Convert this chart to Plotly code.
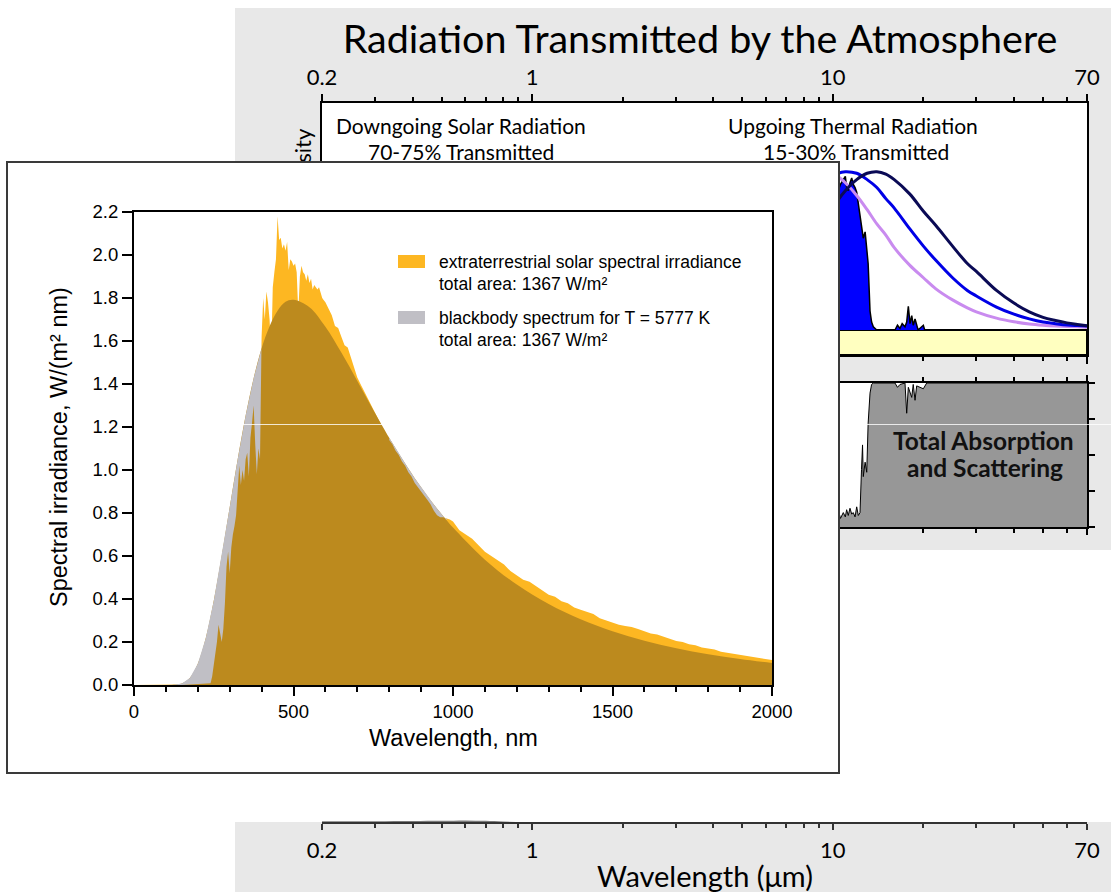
import math
import plotly.graph_objects as go

W, H = 1111, 892


def px(x):
    return x / W


def py(y):
    return 1 - y / H


# ---------------- Inset: solar spectrum vs. blackbody ----------------
bb_wavelength_nm = [0, 100, 125, 150, 175, 200, 225, 250, 275, 300, 325, 350, 375, 400, 425, 450,
                    475, 500, 550, 600, 650, 700, 750, 800, 820, 840, 860, 880, 900, 920, 940, 960,
                    980, 1000, 1100, 1200, 1300, 1400, 1500, 1600, 1700, 1800, 1900, 2000]
bb_irradiance = [0.0, 0.0, 0.001, 0.007, 0.033, 0.099, 0.219, 0.392, 0.601, 0.827, 1.050, 1.253,
                 1.427, 1.566, 1.669, 1.741, 1.783, 1.792, 1.757, 1.666, 1.546, 1.414, 1.279, 1.150,
                 1.101, 1.053, 1.007, 0.962, 0.920, 0.878, 0.839, 0.802, 0.766, 0.732, 0.583, 0.467,
                 0.377, 0.306, 0.250, 0.206, 0.171, 0.143, 0.121, 0.102]

solar_wavelength_nm = [
    0, 100, 150, 200, 240, 245, 250, 255, 260, 265, 270, 275, 280, 285, 290, 295, 300, 305, 310,
    315, 320, 325, 330, 335, 340, 345, 350, 355, 360, 365, 370, 375, 380, 385, 390, 395, 400, 405,
    410, 415, 420, 425, 430, 435, 440, 445, 450, 455, 460, 465, 470, 475, 480, 485, 490, 495, 500,
    505, 510, 515, 520, 525, 530, 535, 540, 545, 550, 555, 560, 565, 570, 575, 580, 585, 590, 595,
    600, 610, 620, 630, 640, 650, 660, 670, 680, 690, 700, 710, 720, 730, 740, 750, 760, 770, 780,
    790, 800, 810, 820, 830, 840, 850, 860, 870, 880, 890, 900, 910, 920, 930, 940, 950, 960, 970,
    980, 990, 1000, 1020, 1040, 1060, 1080, 1100, 1120, 1140, 1160, 1180, 1200, 1220, 1240, 1260,
    1280, 1300, 1320, 1340, 1360, 1380, 1400, 1420, 1440, 1460, 1480, 1500, 1520, 1540, 1560, 1580,
    1600, 1620, 1640, 1660, 1680, 1700, 1720, 1740, 1760, 1780, 1800, 1820, 1840, 1860, 1880, 1900,
    1920, 1940, 1960, 1980, 2000]
solar_irradiance = [
    0.0, 0.0, 0.0, 0.003, 0.008, 0.04, 0.08, 0.15, 0.20, 0.28, 0.24, 0.20, 0.26, 0.38, 0.55, 0.62,
    0.52, 0.64, 0.70, 0.74, 0.79, 0.90, 1.02, 0.93, 1.00, 0.95, 1.05, 1.08, 0.97, 1.15, 1.22, 1.30,
    1.12, 0.98, 1.10, 1.05, 1.62, 1.80, 1.70, 1.83, 1.78, 1.70, 1.53, 1.85, 1.92, 1.98, 2.18, 2.07,
    2.08, 2.03, 2.05, 2.02, 2.06, 1.93, 1.98, 1.97, 1.95, 1.96, 1.92, 1.73, 1.90, 1.95, 1.92, 1.91,
    1.88, 1.91, 1.87, 1.89, 1.84, 1.86, 1.85, 1.84, 1.85, 1.82, 1.80, 1.79, 1.78, 1.75, 1.72, 1.67,
    1.66, 1.62, 1.58, 1.57, 1.52, 1.48, 1.43, 1.40, 1.37, 1.34, 1.31, 1.285, 1.25, 1.22, 1.19,
    1.165, 1.14, 1.12, 1.09, 1.07, 1.04, 1.02, 0.99, 0.97, 0.94, 0.92, 0.90, 0.88, 0.86, 0.84, 0.81,
    0.79, 0.78, 0.78, 0.775, 0.77, 0.76, 0.72, 0.70, 0.68, 0.65, 0.62, 0.60, 0.58, 0.56, 0.53, 0.51,
    0.49, 0.48, 0.46, 0.44, 0.42, 0.41, 0.39, 0.38, 0.36, 0.35, 0.34, 0.33, 0.31, 0.30, 0.29, 0.28,
    0.275, 0.27, 0.26, 0.25, 0.24, 0.235, 0.225, 0.215, 0.205, 0.20, 0.19, 0.185, 0.175, 0.17, 0.165,
    0.155, 0.15, 0.145, 0.14, 0.135, 0.13, 0.125, 0.12, 0.116]

# wavelength windows (nm) where the blackbody lies above the measured spectrum
bb_above_windows_nm = [(100, 400), (800, 980)]

# ---------------- Background figure: radiation transmitted by the atmosphere ----------------
wl_range_um = [0.2, 70]
major_ticks_um = [0.2, 1, 10, 70]
major_tick_text = ["0.2", "1", "10", "70"]
minor_ticks_um = [0.3, 0.4, 0.5, 0.6, 0.7, 0.8, 0.9, 2, 3, 4, 5, 6, 7, 8, 9, 20, 30, 40, 50, 60]

thermal_wl_um = [5, 6, 7, 8, 9, 10, 10.4, 11, 12, 13, 14, 15, 16, 18, 20, 22, 25, 28, 30, 35, 40,
                 45, 50, 55, 60, 65, 70]
thermal_310K = [0.30, 0.57, 0.80, 0.94, 1.00, 0.99, 0.97, 0.93, 0.85, 0.76, 0.67, 0.60, 0.52, 0.41,
                0.33, 0.26, 0.19, 0.14, 0.115, 0.075, 0.052, 0.038, 0.030, 0.025, 0.022, 0.020, 0.018]
thermal_260K = [0.12, 0.31, 0.54, 0.74, 0.89, 0.97, 0.99, 1.00, 0.99, 0.95, 0.90, 0.83, 0.77, 0.64,
                0.53, 0.44, 0.33, 0.25, 0.215, 0.145, 0.10, 0.07, 0.05, 0.04, 0.032, 0.028, 0.025]
thermal_210K = [0.03, 0.10, 0.24, 0.42, 0.60, 0.76, 0.82, 0.88, 0.95, 0.99, 1.00, 0.985, 0.95,
                0.86, 0.75, 0.66, 0.53, 0.42, 0.37, 0.25, 0.17, 0.115, 0.08, 0.06, 0.045, 0.035, 0.027]

transmitted_wl_um = [7.5, 8.0, 8.5, 9.0, 9.5, 10.0, 10.42, 10.6, 10.83, 11.0, 11.11, 11.25, 11.4,
                     11.55, 11.69, 11.85, 12.0, 12.15, 12.31, 12.45, 12.62, 12.8, 12.96, 13.1, 13.29,
                     13.45, 13.63, 13.99, 15.0, 16.09, 16.4, 16.72, 17.0, 17.37, 17.6, 17.82, 18.05,
                     18.29, 18.5, 18.76, 19.2, 19.99, 20.2, 20.51, 25.0, 70.0]
transmitted_thermal = [0.0, 0.45, 0.62, 0.70, 0.55, 0.80, 0.88, 0.92, 0.95, 0.97, 0.90, 0.88, 0.93,
                       0.96, 0.92, 0.90, 0.87, 0.80, 0.72, 0.66, 0.58, 0.62, 0.53, 0.42, 0.12, 0.05,
                       0.02, 0.0, 0.0, 0.0, 0.03, 0.01, 0.04, 0.02, 0.05, 0.15, 0.04, 0.09, 0.03,
                       0.07, 0.0, 0.03, 0.0, 0.0, 0.0, 0.0]

absorption_wl_um = [0.2, 0.3, 0.5, 0.7, 0.9, 1.0, 1.4, 1.6, 1.9, 2.2, 2.7, 3.5, 4.3, 5.5, 6.5, 7.5,
                    8.5, 9.6, 10.0, 10.42, 10.6, 10.83, 11.0, 11.11, 11.25, 11.4, 11.55, 11.69, 11.85,
                    12.0, 12.15, 12.31, 12.45, 12.55, 12.62, 12.8, 12.96, 13.1, 13.29, 13.45, 13.63,
                    16.09, 16.4, 16.72, 17.37, 17.6, 17.82, 18.05, 18.29, 18.5, 18.76, 19.0, 19.99,
                    20.51, 70.0]
total_absorption = [1.0, 0.35, 0.25, 0.2, 0.45, 0.2, 0.9, 0.2, 0.95, 0.2, 1.0, 0.3, 1.0, 0.8, 1.0,
                    0.9, 0.3, 0.6, 0.15, 0.12, 0.06, 0.10, 0.07, 0.12, 0.08, 0.13, 0.09, 0.10, 0.07,
                    0.14, 0.08, 0.10, 0.40, 0.57, 0.35, 0.45, 0.38, 0.72, 0.93, 0.99, 1.0, 1.0, 0.97,
                    0.99, 1.0, 0.79, 0.97, 0.93, 0.90, 0.99, 0.88, 0.98, 0.96, 1.0, 1.0]
absorption_ticks = [0, 0.25, 0.5, 0.75, 1.0]

rayleigh_wl_um = [0.2, 0.3, 0.4, 0.5, 0.6, 0.7, 0.8, 0.95]
rayleigh_tail = [0.08, 0.08, 0.1, 0.12, 0.16, 0.12, 0.05, 0.0]

# ---------------- styles ----------------
ORANGE = "#FDB722"
GOLD = "#BC8A1E"
GRAY = "#C0BFC5"
PANEL_GRAY = "#E8E8E8"
MYRIAD = "Lato, 'Open Sans', sans-serif"
ARIAL = "'Liberation Sans', Arial, sans-serif"
LOGR = [math.log10(wl_range_um[0]), math.log10(wl_range_um[1])]
UPPER_Y = [-0.158, 1.434]


def window(xs, ys, lo, hi):
    pts = [(a, b) for a, b in zip(xs, ys) if lo <= a <= hi]
    return [p[0] for p in pts], [p[1] for p in pts]


fig = go.Figure()

# --- subplot 1: spectral intensity (upper panel)
fig.add_trace(go.Scatter(x=transmitted_wl_um, y=transmitted_thermal, xaxis="x", yaxis="y",
                         mode="lines", fill="tozeroy", fillcolor="#0000FF",
                         line=dict(color="black", width=1.5), hoverinfo="skip", showlegend=False))
for vals, col in [(thermal_310K, "#C98BEF"), (thermal_260K, "#0000E6"), (thermal_210K, "#0A0A55")]:
    fig.add_trace(go.Scatter(x=thermal_wl_um, y=vals, xaxis="x", yaxis="y", mode="lines",
                             line=dict(color=col, width=3, shape="spline", smoothing=1.0),
                             hoverinfo="skip", showlegend=False))

# --- subplot 2: total absorption
fig.add_trace(go.Scatter(x=absorption_wl_um, y=total_absorption, xaxis="x2", yaxis="y2",
                         mode="lines", fill="tozeroy", fillcolor="#979797",
                         line=dict(color="black", width=1), hoverinfo="skip", showlegend=False))

# --- subplot 3: inset box (background only)
fig.add_trace(go.Scatter(x=[None], y=[None], xaxis="x3", yaxis="y3", mode="lines",
                         hoverinfo="skip", showlegend=False))

# --- subplot 4: inset chart
fig.add_trace(go.Scatter(x=solar_wavelength_nm, y=solar_irradiance, xaxis="x4", yaxis="y4",
                         mode="lines", fill="tozeroy", fillcolor=ORANGE, line=dict(width=0),
                         hoverinfo="skip", showlegend=False))
fig.add_trace(go.Scatter(x=bb_wavelength_nm, y=bb_irradiance, xaxis="x4", yaxis="y4",
                         mode="lines", fill="tozeroy", fillcolor=GOLD,
                         line=dict(width=0, shape="spline"), hoverinfo="skip", showlegend=False))
# blackbody showing above the measured spectrum: region between the two curves
for lo, hi in bb_above_windows_nm:
    bx, by = window(bb_wavelength_nm, bb_irradiance, lo, hi)
    sx, sy = window(solar_wavelength_nm, solar_irradiance, lo, hi)
    fig.add_trace(go.Scatter(x=bx + sx[::-1], y=by + sy[::-1], xaxis="x4", yaxis="y4",
                             mode="lines", fill="toself", fillcolor=GRAY, line=dict(width=0),
                             hoverinfo="skip", showlegend=False))

# --- subplot 5: bottom wavelength axis
fig.add_trace(go.Scatter(x=rayleigh_wl_um, y=rayleigh_tail, xaxis="x5", yaxis="y5", mode="lines",
                         fill="tozeroy", fillcolor="#7a7a7a", line=dict(width=0, shape="spline"),
                         hoverinfo="skip", showlegend=False))

dom_x = [px(322), px(1087)]
noaxis = dict(showgrid=False, zeroline=False, automargin=False)
minor_log = dict(tickmode="array", tickvals=minor_ticks_um, ticks="outside", ticklen=4,
                 tickwidth=1.5, tickcolor="black", showgrid=False)

fig.update_layout(
    template="none",
    width=W, height=H, autosize=False, margin=dict(l=0, r=0, t=0, b=0, pad=0),
    paper_bgcolor=PANEL_GRAY, plot_bgcolor="white", hovermode=False, showlegend=False,
    title=dict(text="Radiation Transmitted by the Atmosphere", x=px(700), y=py(39),
               xanchor="center", yanchor="middle", automargin=False,
               font=dict(family=MYRIAD, size=39.5, color="black")),
    xaxis=dict(domain=dom_x, type="log", range=LOGR, anchor="y", side="top", showline=True,
               linecolor="black", linewidth=2, mirror="ticks", ticks="outside", ticklen=7,
               tickwidth=1.5, tickcolor="black", tickmode="array", tickvals=major_ticks_um,
               ticktext=major_tick_text, tickfont=dict(family=MYRIAD, size=22, color="black"),
               ticklabelstandoff=0, minor=minor_log, **noaxis),
    yaxis=dict(domain=[py(355), py(103)], range=UPPER_Y, anchor="x", showline=True,
               linecolor="black", linewidth=2, mirror=True, ticks="", showticklabels=False, **noaxis),
    xaxis2=dict(domain=dom_x, type="log", range=LOGR, anchor="y2", side="bottom", showline=True,
                linecolor="black", linewidth=1.5, mirror="ticks", ticks="outside", ticklen=6,
                tickwidth=1.5, tickcolor="black", tickmode="array", tickvals=major_ticks_um,
                showticklabels=False, minor=minor_log, **noaxis),
    yaxis2=dict(domain=[py(527), py(383)], range=[0, 1], anchor="x2", side="right",
                showline=True, linecolor="black", linewidth=1.5, mirror=True, ticks="outside",
                ticklen=6, tickwidth=1.5, tickcolor="black", tickmode="array",
                tickvals=absorption_ticks, showticklabels=False, **noaxis),
    xaxis3=dict(domain=[px(8), px(838)], range=[0, 1], anchor="y3", showline=True,
                linecolor="#3a3a3a", linewidth=1.5, mirror=True, ticks="", showticklabels=False,
                fixedrange=True, **noaxis),
    yaxis3=dict(domain=[py(772), py(163)], range=[0, 1], anchor="x3", showline=True,
                linecolor="#3a3a3a", linewidth=1.5, mirror=True, ticks="", showticklabels=False,
                fixedrange=True, **noaxis),
    xaxis4=dict(domain=[px(134), px(772)], range=[0, 2000], anchor="y4", showline=True,
                linecolor="black", linewidth=2, mirror=True, ticks="outside", ticklen=9,
                tickwidth=1.5, tickcolor="black", tickmode="linear", tick0=0, dtick=500,
                minor=dict(tickmode="linear", tick0=0, dtick=100, ticks="outside", ticklen=5,
                           tickwidth=1.5, tickcolor="black", showgrid=False),
                tickfont=dict(family=ARIAL, size=18.5, color="black"), **noaxis),
    yaxis4=dict(domain=[py(685), py(212)], range=[0, 2.2], anchor="x4", showline=True,
                linecolor="black", linewidth=2, mirror=True, ticks="outside", ticklen=10,
                tickwidth=1.5, tickcolor="black", tickmode="linear", tick0=0, dtick=0.2,
                tickformat=".1f", tickfont=dict(family=ARIAL, size=18.5, color="black"), **noaxis),
    xaxis5=dict(domain=dom_x, type="log", range=LOGR, anchor="y5", side="bottom", showline=True,
                linecolor="#333333", linewidth=1.5, ticks="outside", ticklen=6, tickwidth=1.5,
                tickcolor="#333333", tickmode="array", tickvals=major_ticks_um,
                ticktext=major_tick_text, tickfont=dict(family=MYRIAD, size=22, color="black"),
                ticklabelstandoff=2,
                minor=dict(tickmode="array", tickvals=minor_ticks_um, ticks="outside", ticklen=4,
                           tickwidth=1.5, tickcolor="#333333", showgrid=False), **noaxis),
    yaxis5=dict(domain=[py(822), py(812)], range=[0, 1], anchor="x5", visible=False),
)

shapes = [
    # white page areas around the grey panel
    dict(type="rect", xref="paper", yref="paper", x0=0, x1=px(235), y0=0, y1=1,
         fillcolor="white", line=dict(width=0), layer="below"),
    dict(type="rect", xref="paper", yref="paper", x0=0, x1=1, y0=py(8), y1=1,
         fillcolor="white", line=dict(width=0), layer="below"),
    dict(type="rect", xref="paper", yref="paper", x0=px(235), x1=1, y0=py(822), y1=py(550),
         fillcolor="white", line=dict(width=0), layer="below"),
    # yellow band under the intensity panel
    dict(type="rect", xref="x domain", yref="y", x0=0, x1=1, y0=UPPER_Y[0], y1=0,
         fillcolor="#FFFFC0", line=dict(color="black", width=2), layer="below"),
    # y-axis label of the intensity panel (mostly hidden behind the inset)
    dict(type="rect", xref="paper", yref="paper", x0=px(288), x1=px(316), y0=py(300), y1=py(125),
         fillcolor="rgba(0,0,0,0)", line=dict(width=0), layer="below",
         label=dict(text="Spectral Intensity", textangle=-90, textposition="middle center",
                    font=dict(family=MYRIAD, size=22, color="black"))),
    # inset legend swatches
    dict(type="rect", xref="paper", yref="paper", x0=px(398), x1=px(425), y0=py(268), y1=py(255),
         fillcolor=ORANGE, line=dict(width=0), layer="above"),
    dict(type="rect", xref="paper", yref="paper", x0=px(398), x1=px(425), y0=py(324), y1=py(311),
         fillcolor=GRAY, line=dict(width=0), layer="above"),
]
for x0, x1 in [(235, 771), (774, 837), (840, 1111)]:
    shapes.append(dict(type="line", xref="paper", yref="paper", x0=px(x0), x1=px(x1),
                       y0=py(424.5), y1=py(424.5), line=dict(color="rgba(255,255,255,0.8)", width=1),
                       layer="above"))
fig.update_layout(shapes=shapes)


def ann(text, x, y, font, xanchor="center", **kw):
    return dict(text=text, x=px(x), y=py(y), xref="paper", yref="paper", showarrow=False,
                xanchor=xanchor, yanchor="middle", font=font, **kw)


f_panel = dict(family=MYRIAD, size=21, color="black")
f_bold = dict(family=MYRIAD, size=24.5, color="#111111", weight="bold")
f_leg = dict(family=ARIAL, size=17.5, color="black")
f_title = dict(family=ARIAL, size=23.5, color="black")

annotations = [
    ann("Downgoing Solar Radiation", 461, 126, f_panel),
    ann("70-75% Transmitted", 461, 151, f_panel),
    ann("Upgoing Thermal Radiation", 853, 126, f_panel),
    ann("15-30% Transmitted", 856, 151, f_panel),
    ann("Total Absorption", 983, 441, f_bold),
    ann("and Scattering", 985, 468, f_bold),
    ann("Wavelength (μm)", 705, 875, dict(family=MYRIAD, size=29, color="black")),
    ann("Wavelength, nm", 453, 738, f_title),
    ann("Spectral irradiance, W/(m² nm)", 59, 447, f_title, textangle=-90),
    ann("extraterrestrial solar spectral irradiance", 437, 262, f_leg, xanchor="left"),
    ann("total area: 1367 W/m²", 437, 284, f_leg, xanchor="left"),
    ann("blackbody spectrum for T = 5777 K", 437, 318, f_leg, xanchor="left"),
    ann("total area: 1367 W/m²", 437, 340, f_leg, xanchor="left"),
]
fig.update_layout(annotations=annotations)

fig.write_html("out.html",
               post_script="document.body.style.margin='0';document.body.style.overflow='hidden';")
